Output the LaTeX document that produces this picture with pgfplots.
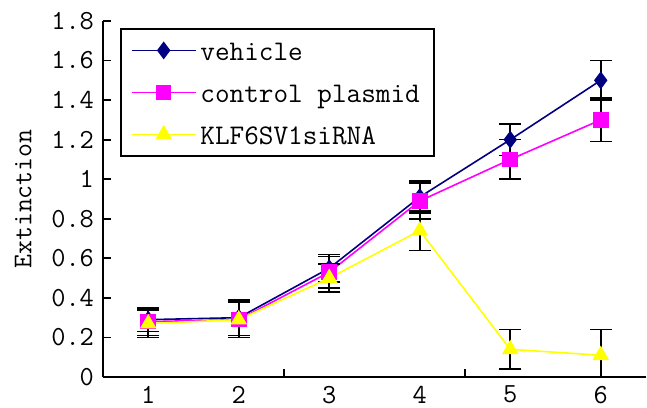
\documentclass[border=0pt]{standalone}
\usepackage{fontspec}
\usepackage{pgfplots}
\pgfplotsset{compat=1.18}
\definecolor{navy}{RGB}{0,0,128}
\definecolor{mag}{RGB}{255,0,255}
\definecolor{yel}{RGB}{255,255,0}
\begin{document}
\begin{tikzpicture}
\useasboundingbox (-51.5pt,-15pt) rectangle (272pt,188.5pt);
\begin{axis}[
  scale only axis,
  width=271.5pt, height=178pt,
  xmin=0.5, xmax=6.5, ymin=0, ymax=1.8,
  axis x line=bottom, axis y line=left,
  axis line style={-, line width=0.9pt, black},
  tick align=inside,
  every tick/.style={black, line width=0.9pt},
  major tick length=4pt,
  xtick={2.5,4.5}, xticklabels={},
  extra x ticks={1,2,3,4,5,6},
  extra x tick style={major tick length=0pt},
  ytick={0,0.2,...,1.81},
  yticklabels={0,0.2,0.4,0.6,0.8,1,1.2,1.4,1.6,1.8},
  /pgf/number format/assume math mode=true,
  tick label style={font=\ttfamily\fontsize{13.8}{14}\selectfont},
  xticklabel style={yshift=-1pt},
  yticklabel style={xshift=-1pt},
  ylabel={Extinction},
  every axis y label/.style={at={(axis description cs:-0.147,0.5)}, rotate=90, anchor=center, font=\ttfamily\fontsize{13.5}{14}\selectfont},
  clip=false,
  legend cell align=left,
  legend style={at={(axis description cs:0.0313,0.9803)}, anchor=north west,
    draw=black, line width=0.9pt, font=\ttfamily\fontsize{14.2}{14}\selectfont,
    inner xsep=5pt, inner ysep=5.5pt, row sep=10.5pt,
    nodes={inner xsep=2pt, inner ysep=0pt, text height=10.5pt, text depth=0pt}},
  legend image code/.code={\draw[mark repeat=2,mark phase=2, line width=0.8pt] plot coordinates {(0pt,0pt) (16pt,0pt) (32pt,0pt)};},
  error bars/error bar style={black, line width=0.8pt},
  error bars/error mark options={black, line width=0.8pt, rotate=90, mark size=5.5pt},
]
\addplot[navy, line width=0.8pt, mark=diamond*, mark size=3.8pt, mark options={solid, fill=navy},
  error bars/.cd, y dir=both, y explicit]
  coordinates {(1,0.29) +- (0,0.06) (2,0.30) +- (0,0.09) (3,0.55) +- (0,0.07) (4,0.91) +- (0,0.08) (5,1.20) +- (0,0.08) (6,1.50) +- (0,0.10)};
\addlegendentry{vehicle}
\addplot[mag, line width=0.8pt, mark=square*, mark size=3.5pt, mark options={solid, fill=mag},
  error bars/.cd, y dir=both, y explicit]
  coordinates {(1,0.28) +- (0,0.07) (2,0.29) +- (0,0.09) (3,0.53) +- (0,0.08) (4,0.89) +- (0,0.09) (5,1.10) +- (0,0.10) (6,1.30) +- (0,0.11)};
\addlegendentry{control plasmid}
\addplot[yel, line width=0.8pt, mark=triangle*, mark size=4pt, mark options={solid, fill=yel},
  error bars/.cd, y dir=both, y explicit]
  coordinates {(1,0.27) +- (0,0.07) (2,0.29) +- (0,0.09) (3,0.50) +- (0,0.07) (4,0.74) +- (0,0.10) (5,0.14) +- (0,0.10) (6,0.11) += (0,0.13) -= (0,0.11)};
\addlegendentry{KLF6SV1siRNA}
\end{axis}
\end{tikzpicture}
\end{document}
